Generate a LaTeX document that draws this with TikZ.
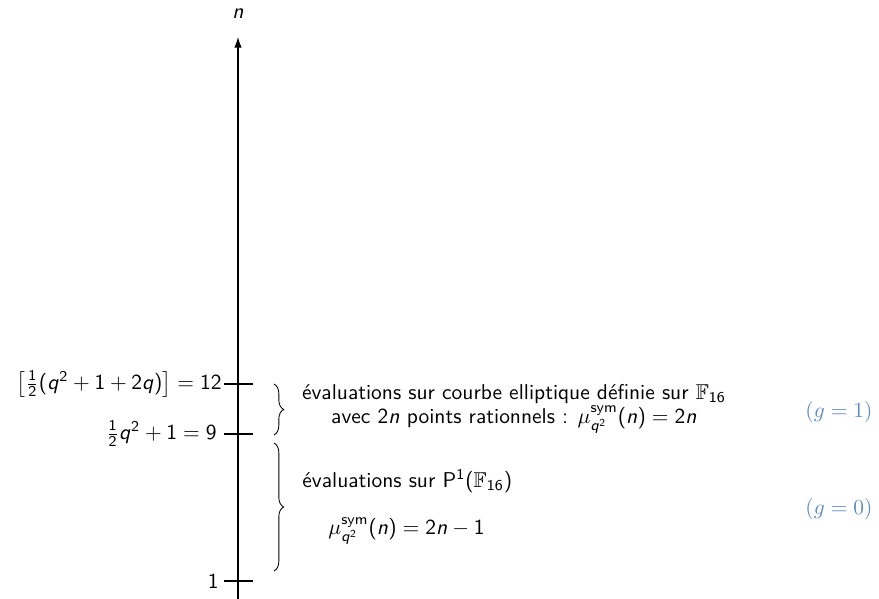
\documentclass[tikz,border=0pt]{standalone}
\usepackage{amsmath}
\usepackage{amssymb}
\usepackage{tikz}
\usetikzlibrary{decorations.pathreplacing,arrows.meta}

% lettres et chiffres en sans serif, sauf les lettres grecques
\DeclareSymbolFont{sflettres}{OT1}{cmss}{m}{sl}
\SetSymbolFont{operators}{normal}{OT1}{cmss}{m}{n}
\DeclareMathSymbol{n}{\mathalpha}{sflettres}{`n}
\DeclareMathSymbol{q}{\mathalpha}{sflettres}{`q}
\DeclareMathAlphabet{\mathserif}{OML}{cmm}{m}{it}

\definecolor{genre}{rgb}{0.36,0.55,0.78}

\begin{document}
\begin{tikzpicture}[
                x=0.466pt, y=-0.466pt,
                every node/.style={font=\sffamily},
                label/.style={anchor=east, inner sep=0pt},
                tick/.style={line width=0.5pt},
                brace/.style={decorate, decoration={brace, amplitude=4.5pt}},
                genus/.style={text=genre, font=\rmfamily}
            ]
        \useasboundingbox (0,0) rectangle (879,599);

        % axe vertical
        \coordinate (bas)  at (238,599);
        \coordinate (haut) at (238,37);
        \draw[line width=0.5pt, -{Latex[length=5pt,width=3.5pt]}] (bas) -- (haut);
        \node (n) at (238,14) {$n$};

        % graduations
        \node[label] (douze) at (222,384) {$\bigl[\frac{1}{2}(q^2+1+2q)\bigr]=12$};
        \node[label] (neuf)  at (217,434) {$\frac{1}{2}q^2+1=9$};
        \node[label] (un)    at (219,581) {$1$};
        \draw[tick] (224,384) -- (253,384);
        \draw[tick] (224,434) -- (253,434);
        \draw[tick] (224,581) -- (253,581);

        % accolades
        \coordinate (a1) at (274,384);
        \coordinate (a2) at (274,435);
        \coordinate (b1) at (274,443);
        \coordinate (b2) at (274,571);
        \draw[brace] (a1) -- (a2);
        \draw[brace] (b1) -- (b2);

        % textes
        \node[align=center] (ell) at (514,409)
            {évaluations sur courbe elliptique définie sur $\mathbb{F}_{16}$\\[-1pt]
             avec $2n$ points rationnels : $\mu_{q^2}^{\mathrm{sym}}(n)=2n$};
        \node[anchor=west, inner sep=0pt] (proj) at (302,481) {évaluations sur $\mathrm{P}^1(\mathbb{F}_{16})$};
        \node[anchor=west, inner sep=0pt] (mu)   at (328,531) {$\mu_{q^2}^{\mathrm{sym}}(n)=2n-1$};

        \node[genus] (g1) at (839,412) {($\mathserif{g}={}$1)};
        \node[genus] (g0) at (839,509) {($\mathserif{g}={}$0)};
            \end{tikzpicture}
\end{document}
